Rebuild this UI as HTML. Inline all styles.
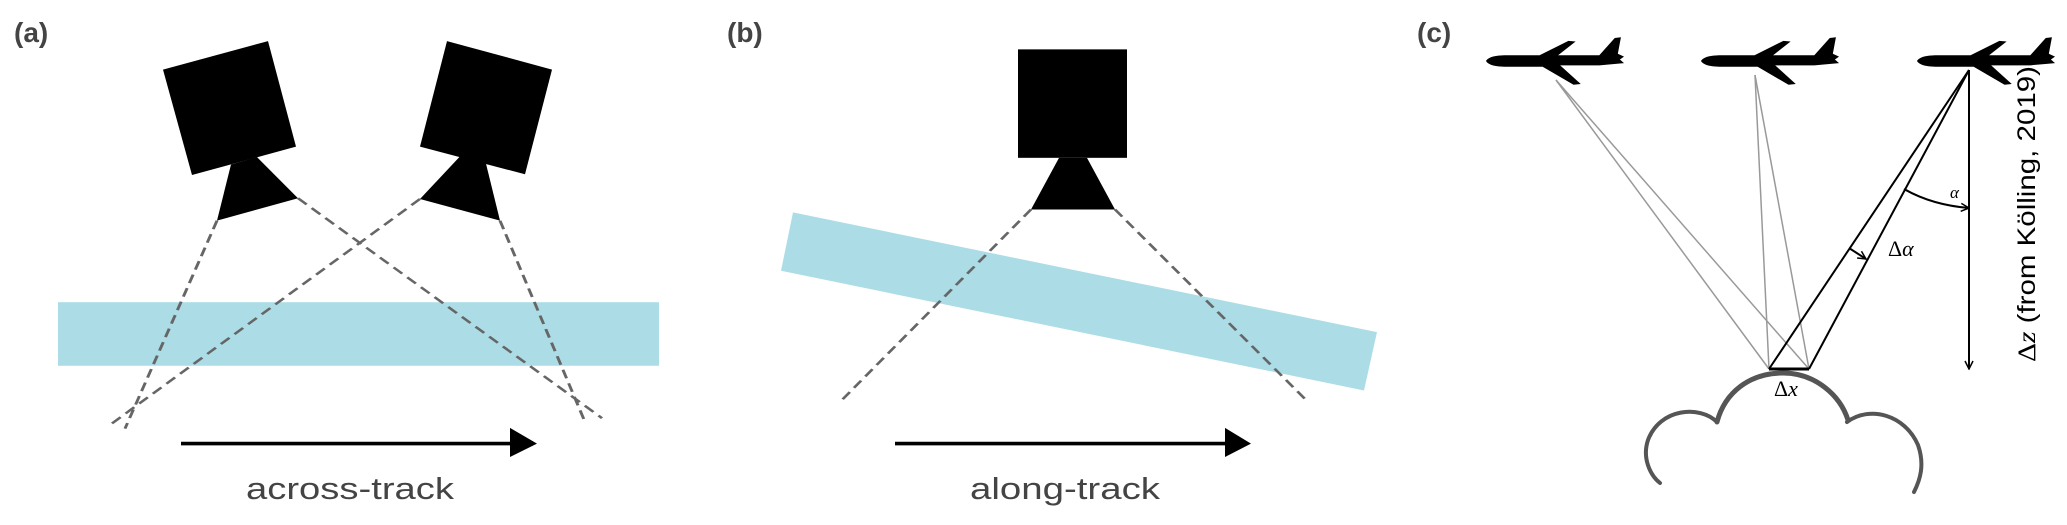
<!DOCTYPE html>
<html><head><meta charset="utf-8"><style>
html,body{margin:0;padding:0;background:#fff;overflow:hidden;}
svg{display:block;}
</style></head><body>
<svg width="2067" height="525" viewBox="0 0 2067 525" xmlns="http://www.w3.org/2000/svg">
<defs>
<g id="plane">
<path d="M0,0 C2,-5 8,-8 20,-8 L110,-8 L125,-32 L131,-33 L128,-10 L134,-6 L130,-2 L134,3 L126,4 L110,6 L72,6 L92,32 L85,33 L55,8 L20,8 C8,8 2,5 0,0 Z M52,-8 L80,-28 L87,-27 L70,-8 Z" fill="#000"/>
</g>
<marker id="ah" markerWidth="10" markerHeight="10" refX="9" refY="5" orient="auto" markerUnits="userSpaceOnUse"><path d="M1,1 L9,5 L1,9" fill="none" stroke="#000" stroke-width="1.5"/></marker>
</defs>
<g transform="scale(1,0.748)">
<!-- Panel a -->
<rect x="58" y="404" width="601" height="85" fill="#acdde7"/>
<polygon points="163,93 268,55 296,196 192,234" fill="#000"/>
<polygon points="231,220 257,210 298,265 217,295" fill="#000"/>
<polygon points="447,55 552,93 525,233 420,196" fill="#000"/>
<polygon points="460,209 486,219 500,295 420,266" fill="#000"/>
<g stroke="#666" stroke-width="3" stroke-dasharray="12,7" fill="none">
<line x1="217" y1="295" x2="125" y2="573"/>
<line x1="298" y1="265" x2="602" y2="559"/>
<line x1="420" y1="266" x2="109" y2="569"/>
<line x1="500" y1="295" x2="584" y2="561"/>
</g>
<line x1="181" y1="593" x2="514" y2="593" stroke="#000" stroke-width="5"/>
<polygon points="510,572 537,593 510,611" fill="#000"/>
<!-- Panel b -->
<polygon points="793,284 1377,444 1364,522 781,362" fill="#acdde7"/>
<rect x="1018" y="66" width="109" height="145" fill="#000"/>
<polygon points="1059,211 1087,211 1115,280 1031,280" fill="#000"/>
<g stroke="#666" stroke-width="3" stroke-dasharray="12,7" fill="none">
<line x1="1031" y1="280" x2="841" y2="536"/>
<line x1="1115" y1="280" x2="1307" y2="536"/>
</g>
<line x1="895" y1="593" x2="1228" y2="593" stroke="#000" stroke-width="5"/>
<polygon points="1225,572 1251,593 1225,611" fill="#000"/>
</g>
<!-- Panel c -->
<use href="#plane" transform="translate(1486,61) scale(1.03,0.72)"/>
<use href="#plane" transform="translate(1701,61) scale(1.03,0.72)"/>
<use href="#plane" transform="translate(1917,61) scale(1.03,0.72)"/>
<g stroke="#999" stroke-width="1.5" fill="none">
<line x1="1556" y1="80" x2="1769" y2="369"/>
<line x1="1556" y1="80" x2="1809" y2="369"/>
<line x1="1755" y1="75" x2="1769" y2="369"/>
<line x1="1755" y1="75" x2="1809" y2="369"/>
</g>
<g stroke="#000" stroke-width="2" fill="none">
<line x1="1969" y1="70" x2="1769" y2="369"/>
<line x1="1969" y1="70" x2="1809" y2="369"/>
<line x1="1969" y1="70" x2="1969" y2="369" marker-end="url(#ah)"/>
<path d="M1904,189 Q1932,205 1969,208" marker-end="url(#ah)"/>
<line x1="1849" y1="248" x2="1866" y2="259" marker-end="url(#ah)"/>
<line x1="1769" y1="369" x2="1809" y2="369" stroke-width="3"/>
</g>
<g stroke="#555" stroke-width="4" fill="none" stroke-linecap="round">
<path d="M1717,422 C1725,392 1750,373 1783,373 C1815,373 1840,395 1848,420" stroke-width="5"/>
<path d="M1717,422 C1700,405 1660,408 1648,440 C1642,458 1650,475 1660,483"/>
<path d="M1847,422 C1870,405 1905,415 1918,445 C1925,465 1920,480 1914,492"/>
</g>
<text x="14" y="42" font-family="Liberation Sans, sans-serif" font-weight="bold" font-size="28" fill="#444">(a)</text>
<text x="727" y="42" font-family="Liberation Sans, sans-serif" font-weight="bold" font-size="28" fill="#444">(b)</text>
<text x="1417" y="42" font-family="Liberation Sans, sans-serif" font-weight="bold" font-size="28" fill="#444">(c)</text>
<text x="246" y="499" font-family="Liberation Sans, sans-serif" font-size="31" fill="#444" textLength="208" lengthAdjust="spacingAndGlyphs">across-track</text>
<text x="970" y="499" font-family="Liberation Sans, sans-serif" font-size="31" fill="#444" textLength="190" lengthAdjust="spacingAndGlyphs">along-track</text>
<text x="1950" y="198" font-family="Liberation Serif, serif" font-style="italic" font-size="17" fill="#000">α</text>
<text x="1888" y="256" font-family="Liberation Serif, serif" font-size="22" fill="#000">Δ<tspan font-style="italic">α</tspan></text>
<text x="1774" y="396" font-family="Liberation Serif, serif" font-size="22" fill="#000">Δ<tspan font-style="italic">x</tspan></text>
<text transform="translate(2035,362) rotate(-90)" font-family="Liberation Sans, sans-serif" font-size="25" fill="#000" textLength="296" lengthAdjust="spacingAndGlyphs"><tspan font-family="Liberation Serif, serif">Δ<tspan font-style="italic">z</tspan></tspan> (from Kölling, 2019)</text>
</svg>
</body></html>
